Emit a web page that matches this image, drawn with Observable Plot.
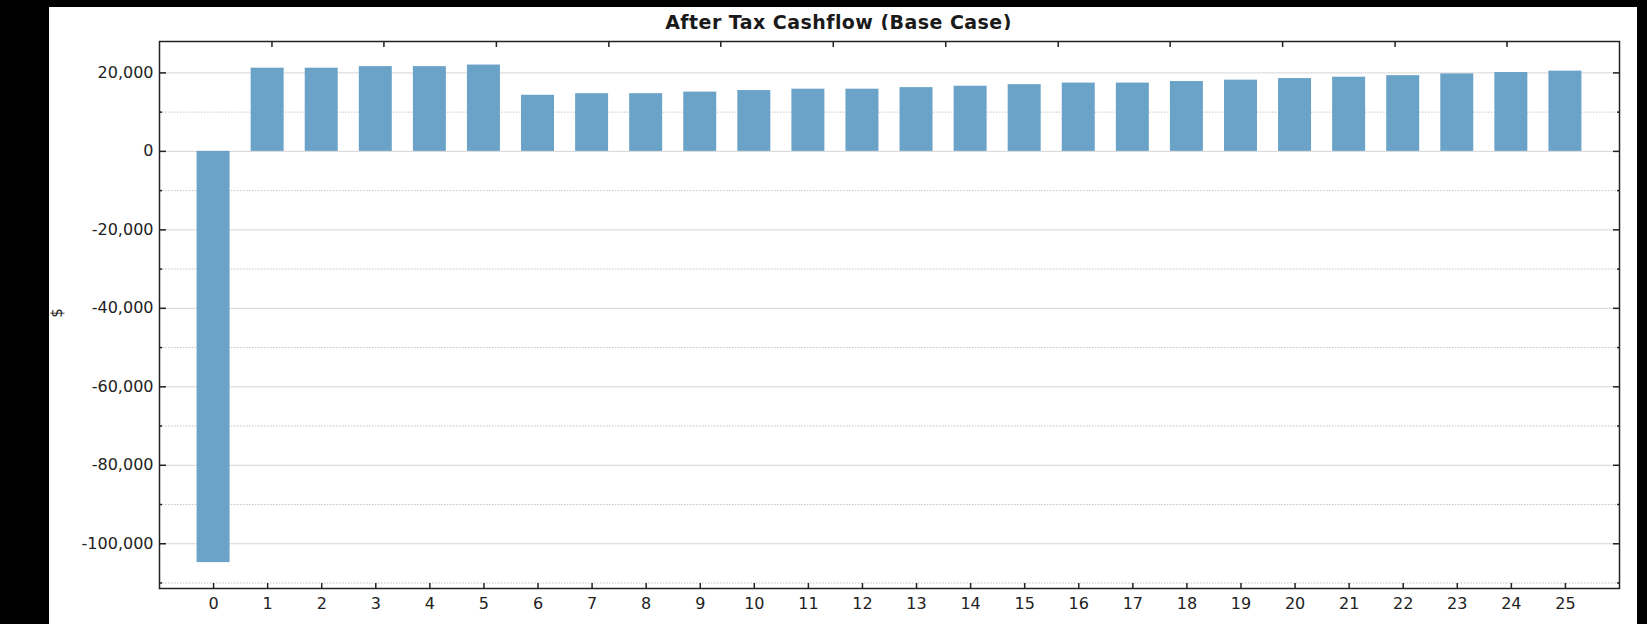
<!DOCTYPE html>
<html>
<head>
<meta charset="utf-8">
<script src="https://cdn.jsdelivr.net/npm/d3@7"></script>
<script src="https://cdn.jsdelivr.net/npm/@observablehq/plot@0.6"></script>
<style>
  html, body { margin: 0; padding: 0; background: #000; }
  body { width: 1647px; height: 624px; position: relative; overflow: hidden; }
  #panel { position: absolute; left: 49px; top: 7px; width: 1588px; height: 617px; background: #fff; }
  #title { position: absolute; left: 0; top: 4px; width: 1579px; text-align: center;
           font: bold 19px "DejaVu Sans", sans-serif; line-height: 22px; color: #1a1a1a; letter-spacing: 0.45px; }
  #ylab { position: absolute; left: 8px; top: 306px; transform: translate(-50%, -50%) rotate(-90deg);
          font: 15px "DejaVu Sans", sans-serif; color: #222; z-index: 2; }
  #chart { position: absolute; left: 0; top: 23px; z-index: 1; }
</style>
</head>
<body>
<div id="panel">
  <div id="title">After Tax Cashflow (Base Case)</div>
  <div id="chart"></div>
  <div id="ylab">$</div>
</div>
<script>
const years = [0, 1, 2, 3, 4, 5, 6, 7, 8, 9, 10, 11, 12, 13, 14, 15, 16, 17, 18, 19, 20, 21, 22, 23, 24, 25];
const cashflow = [-104800, 21200, 21200, 21600, 21600, 22000, 14300, 14700, 14700, 15100, 15500, 15850, 15850,
                  16250, 16600, 17000, 17400, 17400, 17800, 18150, 18550, 18900, 19300, 19750, 20100, 20450];
const yMajorTicks = [-100000, -80000, -60000, -40000, -20000, 0, 20000];
const yMinorTicks = [-110000, -90000, -70000, -50000, -30000, -10000, 10000];
const topTicks = [1.08, 3.15, 5.23, 7.31, 9.38, 11.46, 13.54, 15.62, 17.69, 19.77, 21.85, 23.92];

const data = years.map((y, i) => ({year: y, value: cashflow[i]}));
const halfBar = 0.305;
const ink = "#222";
const fmt = d3.formatLocale({decimal: ".", thousands: ",", grouping: [3], currency: ["$", ""], minus: "-"}).format(",");

const chart = Plot.plot({
  width: 1588,
  height: 594,
  marginTop: 11,
  marginBottom: 36,
  marginLeft: 110,
  marginRight: 18,
  style: {background: "#fff", fontFamily: "DejaVu Sans, sans-serif", fontSize: "16px", color: ink},
  x: {type: "linear", domain: [-1, 26], axis: null},
  y: {domain: [-111400, 28000], axis: null},
  marks: [
    Plot.ruleY(yMajorTicks, {stroke: "#d6d6d6", strokeWidth: 1}),
    Plot.ruleY(yMinorTicks, {stroke: "#c4c4c4", strokeWidth: 1, strokeDasharray: "1.5,1.5"}),
    Plot.rect(data, {x1: d => d.year - halfBar, x2: d => d.year + halfBar, y1: 0, y2: "value", fill: "#6ba3c8"}),
    // left axis (labels + inward ticks)
    Plot.axisY({anchor: "left", ticks: yMajorTicks, tickSize: 7, dx: 7, tickPadding: 6,
                tickFormat: fmt, stroke: ink, strokeWidth: 1.5, fill: ink, label: null}),
    Plot.axisY({anchor: "left", ticks: yMinorTicks, tickSize: 3, dx: 3, tickFormat: () => "",
                stroke: ink, strokeWidth: 1.5, label: null}),
    // right axis ticks
    Plot.axisY({anchor: "right", ticks: yMajorTicks, tickSize: 7, dx: -7, tickFormat: () => "",
                stroke: ink, strokeWidth: 1.5, label: null}),
    Plot.axisY({anchor: "right", ticks: yMinorTicks, tickSize: 3, dx: -3, tickFormat: () => "",
                stroke: ink, strokeWidth: 1.5, label: null}),
    // bottom axis
    Plot.axisX({anchor: "bottom", ticks: years, tickSize: 5, dy: -5, tickPadding: 9,
                tickFormat: d => String(d), stroke: ink, strokeWidth: 1.5, fill: ink, label: null}),
    // top axis ticks
    Plot.axisX({anchor: "top", ticks: topTicks, tickSize: 5, dy: 5, tickFormat: () => "",
                stroke: ink, strokeWidth: 1.5, label: null}),
    Plot.frame({stroke: ink, strokeWidth: 1.5})
  ]
});
document.getElementById("chart").appendChild(chart);
</script>
</body>
</html>
